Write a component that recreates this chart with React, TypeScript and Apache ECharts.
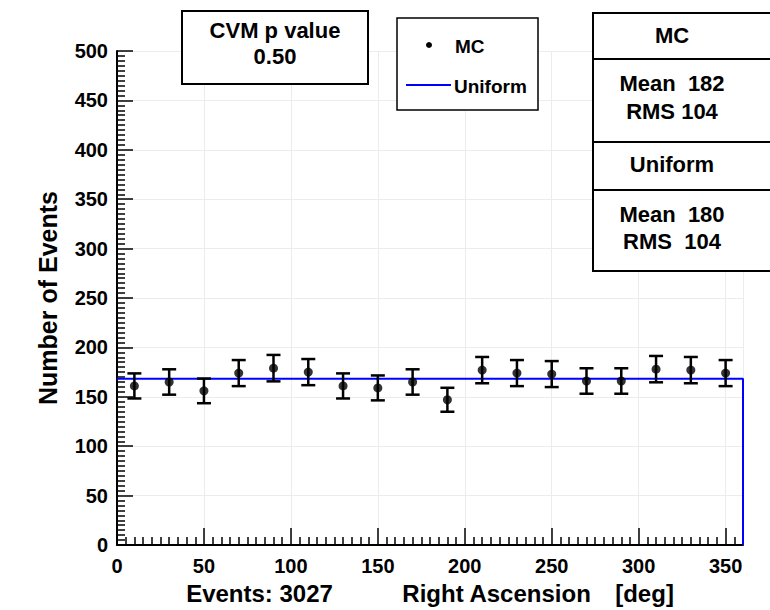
import React, { useEffect, useRef } from "react";
import * as echarts from "echarts";

// Right ascension bins (20 deg wide), centres in degrees
const binCenters = [10, 30, 50, 70, 90, 110, 130, 150, 170, 190, 210, 230, 250, 270, 290, 310, 330, 350];
// Monte Carlo event counts per bin
const mcCounts = [161, 165, 156, 174, 179, 175, 161, 159, 165, 147, 177, 174, 173, 166, 166, 178, 177, 174];
// Expected count per bin for a uniform distribution (3027 events / 18 bins)
const uniformLevel = 168.2;
const raRange = [0, 360];
const countRange = [0, 500];

const statsLines = ["MC", "Mean  182", "RMS 104", "Uniform", "Mean  180", "RMS  104"];
const cvmLines = ["CVM p value", "0.50"];
const legendNames = ["MC", "Uniform"];
const xTitleParts = ["Events: 3027", "Right Ascension", "[deg]"];
const yTitle = "Number of Events";

const FONT = "'Liberation Sans', Arial, Helvetica, sans-serif";

export default function App() {
  const ref = useRef<HTMLDivElement>(null);

  useEffect(() => {
    if (!ref.current) return;
    const chart = echarts.init(ref.current, null, { renderer: "svg" });

    const points = binCenters.map((x, i) => [x, mcCounts[i], Math.sqrt(mcCounts[i])]);
    const uniformPath = [
      [raRange[0], uniformLevel],
      [raRange[1], uniformLevel],
      [raRange[1], 0],
    ];

    const boxText = (text: string, x: number, y: number, size: number) => ({
      type: "text",
      x,
      y,
      style: {
        text,
        fill: "#000",
        font: `bold ${size}px ${FONT}`,
        align: "center",
        verticalAlign: "middle",
      },
    });

    const hline = (x1: number, x2: number, y: number, w: number) => ({
      type: "line",
      shape: { x1, y1: y, x2, y2: y },
      style: { stroke: "#000", lineWidth: w },
    });

    chart.setOption({
      animation: false,
      backgroundColor: "#fff",
      grid: { left: 117, top: 51, right: 27, bottom: 64, containLabel: false },
      xAxis: {
        type: "value",
        min: raRange[0],
        max: raRange[1],
        interval: 50,
        name:
          `{t|${xTitleParts[0]}}{s1|\u00a0}{t|${xTitleParts[1]}}{s2|\u00a0}{t|${xTitleParts[2]}}`,
        nameLocation: "middle",
        nameGap: 36,
        nameTextStyle: {
          rich: {
            t: { fontFamily: FONT, fontWeight: "bold", fontSize: 24, color: "#000" },
            s1: { width: 69, fontSize: 24 },
            s2: { width: 24, fontSize: 24 },
          },
        },
        axisLine: { show: true, onZero: false, lineStyle: { color: "#000", width: 2 } },
        axisTick: { show: true, inside: true, length: 17, lineStyle: { color: "#000", width: 1.5 } },
        minorTick: { show: true, splitNumber: 10, length: 8, lineStyle: { color: "#000", width: 1.5 } },
        axisLabel: {
          show: true,
          showMaxLabel: false,
          margin: 11,
          fontFamily: FONT,
          fontWeight: "bold",
          fontSize: 20,
          color: "#000",
        },
        splitLine: { show: true, lineStyle: { color: "#ececec", width: 1 } },
      },
      yAxis: {
        type: "value",
        min: countRange[0],
        max: countRange[1],
        interval: 50,
        name: yTitle,
        nameLocation: "middle",
        nameGap: 57,
        nameTextStyle: { fontFamily: FONT, fontWeight: "bold", fontSize: 25, color: "#000" },
        axisLine: { show: true, onZero: false, lineStyle: { color: "#000", width: 2 } },
        axisTick: { show: true, inside: true, length: 16, lineStyle: { color: "#000", width: 1.5 } },
        minorTick: { show: true, splitNumber: 10, length: 8, lineStyle: { color: "#000", width: 1.5 } },
        axisLabel: {
          show: true,
          margin: 9,
          fontFamily: FONT,
          fontWeight: "bold",
          fontSize: 20,
          color: "#000",
        },
        splitLine: { show: true, lineStyle: { color: "#ececec", width: 1 } },
      },
      series: [
        {
          name: legendNames[1],
          type: "line",
          data: uniformPath,
          symbol: "none",
          lineStyle: { color: "#0000ff", width: 2 },
          z: 2,
        },
        {
          name: "MC errors",
          type: "custom",
          data: points,
          z: 3,
          renderItem: (params: any, api: any) => {
            const x = api.value(0);
            const y = api.value(1);
            const e = api.value(2);
            const top = api.coord([x, y + e]);
            const bot = api.coord([x, y - e]);
            const hw = 7;
            const st = { stroke: "#000", lineWidth: 2.5 };
            return {
              type: "group",
              children: [
                { type: "line", shape: { x1: top[0], y1: top[1], x2: bot[0], y2: bot[1] }, style: st },
                { type: "line", shape: { x1: top[0] - hw, y1: top[1], x2: top[0] + hw, y2: top[1] }, style: st },
                { type: "line", shape: { x1: bot[0] - hw, y1: bot[1], x2: bot[0] + hw, y2: bot[1] }, style: st },
              ],
            };
          },
        },
        {
          name: legendNames[0],
          type: "scatter",
          data: points.map((p) => [p[0], p[1]]),
          symbol: "circle",
          symbolSize: 9,
          itemStyle: { color: "#000" },
          z: 4,
        },
      ],
      graphic: [
        // CVM test result box
        {
          type: "rect",
          shape: { x: 182, y: 11, width: 186, height: 73 },
          style: { fill: "#fff", stroke: "#000", lineWidth: 2 },
          z: 10,
        },
        { ...boxText(cvmLines[0], 275, 30, 22), z: 11 },
        { ...boxText(cvmLines[1], 275, 56, 22), z: 11 },
        // legend
        {
          type: "rect",
          shape: { x: 397, y: 18, width: 141, height: 92 },
          style: { fill: "#fff", stroke: "#000", lineWidth: 1.5 },
          z: 10,
        },
        { type: "circle", shape: { cx: 429, cy: 45, r: 3 }, style: { fill: "#000" }, z: 11 },
        {
          type: "text",
          x: 455,
          y: 46,
          style: { text: legendNames[0], fill: "#000", font: `bold 19px ${FONT}`, verticalAlign: "middle" },
          z: 11,
        },
        {
          type: "line",
          shape: { x1: 406, y1: 85, x2: 451, y2: 85 },
          style: { stroke: "#0000ff", lineWidth: 2 },
          z: 11,
        },
        {
          type: "text",
          x: 454,
          y: 86,
          style: { text: legendNames[1], fill: "#000", font: `bold 19px ${FONT}`, verticalAlign: "middle" },
          z: 11,
        },
        // statistics box
        {
          type: "rect",
          shape: { x: 593, y: 13, width: 190, height: 258 },
          style: { fill: "#fff", stroke: "#000", lineWidth: 2 },
          z: 10,
        },
        { ...hline(593, 780, 59, 2), z: 11 },
        { ...hline(593, 780, 142, 2), z: 11 },
        { ...hline(593, 780, 190, 2), z: 11 },
        { ...boxText(statsLines[0], 672, 35, 22), z: 11 },
        { ...boxText(statsLines[1], 672, 83, 22), z: 11 },
        { ...boxText(statsLines[2], 672, 111, 22), z: 11 },
        { ...boxText(statsLines[3], 672, 164, 22), z: 11 },
        { ...boxText(statsLines[4], 672, 214, 22), z: 11 },
        { ...boxText(statsLines[5], 672, 241, 22), z: 11 },
      ],
    });

    return () => chart.dispose();
  }, []);

  return (
    <div
      ref={ref}
      style={{ position: "absolute", left: 0, top: 0, width: 770, height: 610 }}
    />
  );
}
